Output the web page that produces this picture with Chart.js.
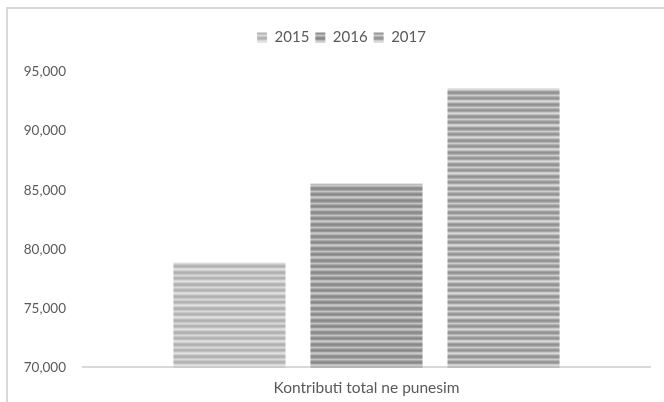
<!DOCTYPE html>
<html>
<head>
<meta charset="utf-8">
<script src="https://cdn.jsdelivr.net/npm/chart.js@4"></script>
<style>
    body { margin: 0; background: #fff; }
    .wrap { position: relative; width: 664px; height: 402px; overflow: hidden; }
    .frame {
        position: absolute; left: 6px; top: 7px; width: 700px; height: 450px;
        border: 2px solid #d9d9d9; box-sizing: border-box;
    }
    canvas { position: absolute; left: 0; top: 0; }
</style>
</head>
<body>
<div class="wrap">
    <div class="frame"></div>
    <canvas id="chart" width="664" height="402"></canvas>
</div>
<script>
// データ
const categories = ['Kontributi total ne punesim'];
const seriesNames = ['2015', '2016', '2017'];
const values2015 = [78850];
const values2016 = [85550];
const values2017 = [93600];
const yTicks = [70000, 75000, 80000, 85000, 90000, 95000];

// 縞模様のパターン
function makeStripes(greys) {
    const c = document.createElement('canvas');
    c.width = 8;
    c.height = greys.length;
    const g = c.getContext('2d');
    greys.forEach((v, i) => {
        g.fillStyle = `rgb(${v},${v},${v})`;
        g.fillRect(0, i, 8, 1);
    });
    return g.createPattern(c, 'repeat');
}

const ctx = document.getElementById('chart').getContext('2d');
const fills = [
    makeStripes([200, 184, 176, 192, 214, 226, 206, 186, 176, 182, 200, 218]),
    makeStripes([170, 146, 134, 150, 186, 204, 178, 150, 136, 144, 166, 196]),
    makeStripes([178, 156, 146, 166, 200, 218, 190, 160, 146, 152, 176, 206])
];
const valueSets = [values2015, values2016, values2017];

// 凡例の下に余白を追加し、少し右へ寄せる
const legendGap = {
    id: 'legendGap',
    beforeInit(chart) {
        const origFit = chart.legend.fit;
        chart.legend.fit = function () {
            origFit.bind(chart.legend)();
            this.height += 17;
        };
    },
    afterLayout(chart) {
        chart.legend.left += 14;
        chart.legend.right += 14;
    }
};

new Chart(ctx, {
    type: 'bar',
    data: {
        labels: categories,
        datasets: seriesNames.map((name, i) => ({
            label: name,
            data: valueSets[i],
            backgroundColor: fills[i],
            borderWidth: 0,
            categoryPercentage: 0.725,
            barPercentage: 0.818
        }))
    },
    options: {
        responsive: false,
        animation: false,
        layout: { padding: { top: 24, left: 5, right: 14, bottom: 2 } },
        plugins: {
            legend: {
                position: 'top',
                labels: {
                    color: '#595959',
                    font: { family: 'Lato', size: 15 },
                    boxWidth: 10,
                    boxHeight: 10,
                    padding: 6
                }
            },
            tooltip: { enabled: false }
        },
        scales: {
            x: {
                grid: { display: false },
                border: { color: '#d9d9d9', width: 2 },
                ticks: { color: '#595959', font: { family: 'Lato', size: 15.5 }, padding: 3 }
            },
            y: {
                min: 70000,
                max: 95000,
                afterBuildTicks: scale => { scale.ticks = yTicks.map(v => ({ value: v })); },
                afterFit: scale => { scale.width = 78; },
                grid: { display: false },
                border: { display: false },
                ticks: {
                    color: '#595959',
                    font: { family: 'Lato', size: 13.5 },
                    padding: 9,
                    callback: v => v.toLocaleString('en-US')
                }
            }
        }
    },
    plugins: [legendGap]
});
</script>
</body>
</html>
